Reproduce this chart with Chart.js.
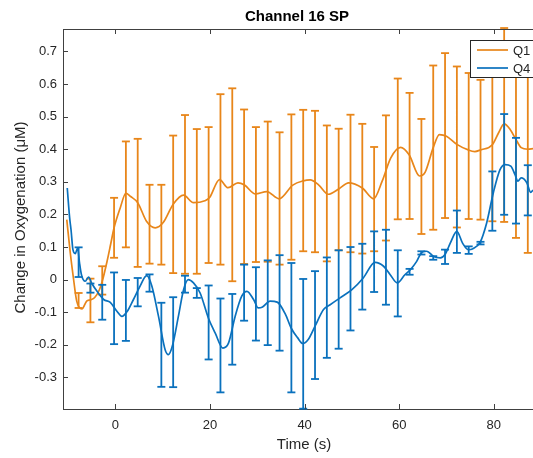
<!DOCTYPE html>
<html>
<head>
<meta charset="utf-8">
<script src="https://cdn.jsdelivr.net/npm/chart.js@4/dist/chart.umd.min.js"></script>
<style>
  html, body { margin: 0; padding: 0; background: #ffffff; }
  #wrap { width: 533px; height: 458px; }
</style>
</head>
<body>
<div id="wrap"><canvas id="chart" width="533" height="458"></canvas></div>
<script>
// ---- data ----
const chartTitle = 'Channel 16 SP';
const xLabel = 'Time (s)';
const yLabel = 'Change in Oxygenation (\u03bcM)';
const seriesNames = ['Q1', 'Q4'];

const xTickValues = [0, 20, 40, 60, 80];
const yTickValues = [-0.3, -0.2, -0.1, 0, 0.1, 0.2, 0.3, 0.4, 0.5, 0.6, 0.7];

// times of the error bars (s)
const errTimes = [-7.8, -5.3, -2.8, -0.3, 2.2, 4.7, 7.2, 9.7, 12.2, 14.7, 17.2, 19.7, 22.2,
  24.7, 27.2, 29.7, 32.2, 34.7, 37.2, 39.7, 42.2, 44.7, 47.2, 49.7, 52.2, 54.7, 57.2,
  59.7, 62.2, 64.7, 67.2, 69.7, 72.2, 74.7, 77.2, 79.7, 82.2, 84.7, 87.2];

// Q1 error bar limits
const q1Upper = [-0.041, 0.003, 0.041, 0.251, 0.424, 0.432, 0.291, 0.291, 0.442, 0.505, 0.462, 0.468, 0.569,
  0.587, 0.522, 0.468, 0.485, 0.452, 0.507, 0.521, 0.518, 0.473, 0.463, 0.506, 0.478, 0.407, 0.504,
  0.617, 0.573, 0.493, 0.657, 0.695, 0.654, 0.634, 0.613, 0.645, 0.772, 0.715, 0.720];
const q1Lower = [-0.087, -0.131, -0.046, 0.067, 0.099, 0.039, 0.049, 0.046, 0.020, 0.018, 0.018, 0.051, 0.046,
  -0.005, 0.048, 0.054, 0.055, 0.046, 0.061, 0.087, 0.084, 0.056, 0.090, 0.084, 0.080, 0.087, 0.120,
  0.185, 0.186, 0.140, 0.153, 0.189, 0.160, 0.186, 0.184, 0.179, 0.177, 0.128, 0.082];

// Q4 error bar limits
const q4Upper = [0.099, -0.012, -0.016, 0.022, -0.001, 0.005, 0.016, -0.071, -0.054, 0.012, -0.026, -0.018, -0.058,
  -0.044, 0.046, 0.038, 0.059, 0.075, 0.051, 0.002, 0.026, 0.068, 0.090, 0.100, 0.110, 0.148, 0.153,
  0.090, 0.033, 0.087, 0.072, 0.092, 0.212, 0.102, 0.116, 0.332, 0.508, 0.435, 0.351];
const q4Lower = [0.008, -0.040, -0.123, -0.198, -0.188, -0.082, -0.037, -0.329, -0.330, -0.040, -0.056, -0.245, -0.346,
  -0.261, -0.126, -0.187, -0.201, -0.218, -0.346, -0.396, -0.305, -0.240, -0.212, -0.156, -0.092, -0.038, -0.077,
  -0.113, 0.015, 0.077, 0.061, 0.048, 0.082, 0.079, 0.108, 0.150, 0.199, 0.172, 0.197];

// mean curves
const q1Time = [-10.3, -9.6, -8.9, -8.2, -7.1, -6.1, -5.3, -4.4, -3.4, -2.8, -1.8, -1.0, -0.3, 1.0, 2.2, 3.2,
  4.7, 6.6, 8.4, 10.1, 12.2, 14.4, 16.5, 18.9, 19.9, 22.0, 23.8, 25.9, 27.3, 29.6, 32.0, 34.6, 37.5,
  39.7, 41.2, 43.0, 45.0, 47.3, 49.3, 52.2, 54.6, 56.4, 58.2, 60.3, 62.1, 64.3, 65.5, 67.2, 68.5, 70.0,
  72.2, 74.6, 76.0, 77.2, 79.7, 81.0, 82.2, 83.5, 84.7, 85.8, 87.2, 88.3];
const q1Mean = [0.184, 0.087, 0.005, -0.066, -0.090, -0.066, -0.062, -0.055, -0.031, -0.005, 0.055, 0.11, 0.159, 0.22, 0.265, 0.255,
  0.236, 0.178, 0.159, 0.175, 0.231, 0.259, 0.236, 0.242, 0.252, 0.307, 0.282, 0.297, 0.290, 0.263, 0.270, 0.248, 0.290,
  0.303, 0.306, 0.290, 0.262, 0.279, 0.297, 0.281, 0.248, 0.302, 0.373, 0.406, 0.383, 0.318, 0.330, 0.405, 0.445, 0.440,
  0.415, 0.398, 0.393, 0.398, 0.414, 0.450, 0.478, 0.460, 0.430, 0.405, 0.400, 0.402];

const q4Time = [-10.2, -9.7, -9.4, -9.0, -8.5, -8.0, -7.6, -7.2, -6.4, -5.7, -5.0, -3.9, -2.5, -1.1, 0.3, 1.35,
  2.5, 3.8, 5.2, 6.6, 7.7, 9.1, 10.5, 11.2, 12.1, 13.3, 14.4, 15.4, 16.5, 17.9, 19.7, 21.1, 22.7, 23.9,
  25.3, 26.7, 27.8, 29.2, 30.2, 31.0, 32.7, 34.2, 35.9, 37.2, 38.5, 39.6, 40.8, 42.2, 44.0, 45.4, 47.5,
  50.0, 52.4, 54.9, 56.7, 58.1, 59.6, 61.2, 62.4, 63.7, 64.8, 65.8, 67.4, 68.7, 69.7, 70.8, 72.2, 73.4,
  74.6, 75.6, 77.1, 78.5, 79.9, 81.3, 82.4, 83.6, 84.5, 85.1, 85.8, 87.0, 87.8, 88.3];
const q4Mean = [0.281, 0.19, 0.153, 0.092, 0.080, 0.097, 0.051, 0.015, -0.005, 0.008, -0.012, -0.036, -0.061, -0.070, -0.097, -0.113,
  -0.097, -0.061, -0.020, 0.012, -0.020, -0.113, -0.215, -0.230, -0.200, -0.113, -0.031, 0.000, -0.010, -0.041, -0.120, -0.164, -0.210, -0.195,
  -0.113, -0.051, -0.036, -0.061, -0.087, -0.085, -0.066, -0.069, -0.105, -0.150, -0.178, -0.196, -0.183, -0.143, -0.092, -0.077, -0.056,
  -0.031, 0.005, 0.053, 0.041, 0.015, -0.010, 0.015, 0.031, 0.056, 0.084, 0.087, 0.070, 0.067, 0.077, 0.112, 0.148, 0.112,
  0.092, 0.095, 0.114, 0.174, 0.266, 0.337, 0.353, 0.348, 0.322, 0.302, 0.312, 0.297, 0.268, 0.275];

// ---- styling ----
const ORANGE = '#E8861A';
const BLUE = '#0A71BD';
const AXIS = '#404040';
const TEXT = '#262626';
const FONT = "'Liberation Sans', Arial, Helvetica, sans-serif";

// ---- helpers building library datasets ----
function curve(ts, vs) { return ts.map((t, i) => ({ x: t, y: vs[i] })); }
function stems(ts, lo, hi) {
  const out = [];
  ts.forEach((t, i) => { out.push({ x: t, y: lo[i] }, { x: t, y: hi[i] }, { x: t, y: null }); });
  return out;
}
function caps(ts, lo, hi) {
  const out = [];
  ts.forEach((t, i) => { out.push({ x: t, y: lo[i] }, { x: t, y: hi[i] }); });
  return out;
}

function seriesSets(name, color, ts, vs, lo, hi) {
  return [
    { label: name, type: 'line', data: curve(ts, vs), borderColor: color, borderWidth: 1.7,
      pointRadius: 0, cubicInterpolationMode: 'monotone', fill: false },
    { label: name + ' bars', type: 'line', data: stems(errTimes, lo, hi), borderColor: color,
      borderWidth: 1.8, pointRadius: 0, spanGaps: false, tension: 0, fill: false, clip: false },
    { label: name + ' caps', type: 'scatter', data: caps(errTimes, lo, hi), showLine: false,
      pointStyle: 'line', pointRadius: 4, pointHoverRadius: 4, borderColor: color,
      pointBorderWidth: 1.8, borderWidth: 1.8, backgroundColor: color, clip: false }
  ];
}

// Q4 first so it is painted over Q1
const datasets = [
  ...seriesSets(seriesNames[1], BLUE, q4Time, q4Mean, q4Lower, q4Upper),
  ...seriesSets(seriesNames[0], ORANGE, q1Time, q1Mean, q1Lower, q1Upper)
];

// frame, inward tick marks, texts and legend box
const decorations = {
  id: 'decorations',
  afterDatasetsDraw(chart) {
    const { ctx, chartArea: a, scales: { x, y } } = chart;
    ctx.save();
    ctx.strokeStyle = AXIS;
    ctx.lineWidth = 1;
    ctx.beginPath();
    ctx.moveTo(a.left, a.top + 0.5);
    ctx.lineTo(a.right, a.top + 0.5);
    xTickValues.forEach(v => {
      const px = Math.round(x.getPixelForValue(v)) + 0.5;
      ctx.moveTo(px, a.bottom); ctx.lineTo(px, a.bottom - 5);
      ctx.moveTo(px, a.top); ctx.lineTo(px, a.top + 5);
    });
    yTickValues.forEach(v => {
      const py = Math.round(y.getPixelForValue(v)) + 0.5;
      ctx.moveTo(a.left, py); ctx.lineTo(a.left + 5, py);
    });
    ctx.stroke();
    ctx.restore();
  },
  afterDraw(chart) {
    const { ctx, chartArea: a } = chart;
    ctx.save();
    // title
    ctx.fillStyle = '#000000';
    ctx.font = 'bold 15px ' + FONT;
    ctx.textAlign = 'center';
    ctx.textBaseline = 'alphabetic';
    ctx.fillText(chartTitle, (a.left + a.right) / 2 - 1, 21);
    // axis labels
    ctx.fillStyle = TEXT;
    ctx.font = '15px ' + FONT;
    ctx.fillText(xLabel, (a.left + a.right) / 2 + 6, 449);
    ctx.save();
    ctx.translate(25, (a.top + a.bottom) / 2 - 1.5);
    ctx.rotate(-Math.PI / 2);
    ctx.fillText(yLabel, 0, 0);
    ctx.restore();
    // legend
    const lx = a.right - 63, ly = 40, lw = 90, lh = 37;
    ctx.fillStyle = '#ffffff';
    ctx.fillRect(lx, ly, lw, lh);
    ctx.strokeStyle = TEXT;
    ctx.lineWidth = 1;
    ctx.strokeRect(lx + 0.5, ly + 0.5, lw, lh);
    const rows = [[seriesNames[0], ORANGE, ly + 10], [seriesNames[1], BLUE, ly + 28]];
    ctx.font = '13px ' + FONT;
    ctx.textAlign = 'left';
    ctx.textBaseline = 'middle';
    rows.forEach(([name, color, ry]) => {
      ctx.strokeStyle = color;
      ctx.lineWidth = 1.7;
      ctx.beginPath();
      ctx.moveTo(lx + 7, ry);
      ctx.lineTo(lx + 38, ry);
      ctx.stroke();
      ctx.fillStyle = TEXT;
      ctx.fillText(name, lx + 43, ry + 1);
    });
    ctx.restore();
  }
};

new Chart(document.getElementById('chart'), {
  type: 'line',
  data: { datasets },
  options: {
    responsive: false,
    animation: false,
    devicePixelRatio: 1,
    layout: { autoPadding: false, padding: { top: 29, left: 0, right: 0, bottom: 0 } },
    plugins: { legend: { display: false }, title: { display: false }, tooltip: { enabled: false } },
    events: [],
    scales: {
      x: {
        type: 'linear',
        min: -11.1,
        max: 88.3,
        afterFit(scale) { scale.height = 49; },
        afterBuildTicks(scale) { scale.ticks = xTickValues.map(v => ({ value: v })); },
        grid: { display: true, drawOnChartArea: false, drawTicks: false },
        border: { display: true, color: AXIS, width: 1 },
        ticks: { color: TEXT, font: { family: FONT, size: 13 }, padding: 9, maxRotation: 0,
          callback: v => String(v) },
        title: { display: false }
      },
      y: {
        type: 'linear',
        min: -0.397,
        max: 0.769,
        afterFit(scale) { scale.width = 63; },
        afterBuildTicks(scale) { scale.ticks = yTickValues.map(v => ({ value: v })); },
        grid: { display: true, drawOnChartArea: false, drawTicks: false },
        border: { display: true, color: AXIS, width: 1 },
        ticks: { color: TEXT, font: { family: FONT, size: 13 }, padding: 6,
          callback: v => { const r = Math.round(v * 10) / 10; return r === 0 ? '0' : String(r); } },
        title: { display: false }
      }
    }
  },
  plugins: [decorations]
});
</script>
</body>
</html>
